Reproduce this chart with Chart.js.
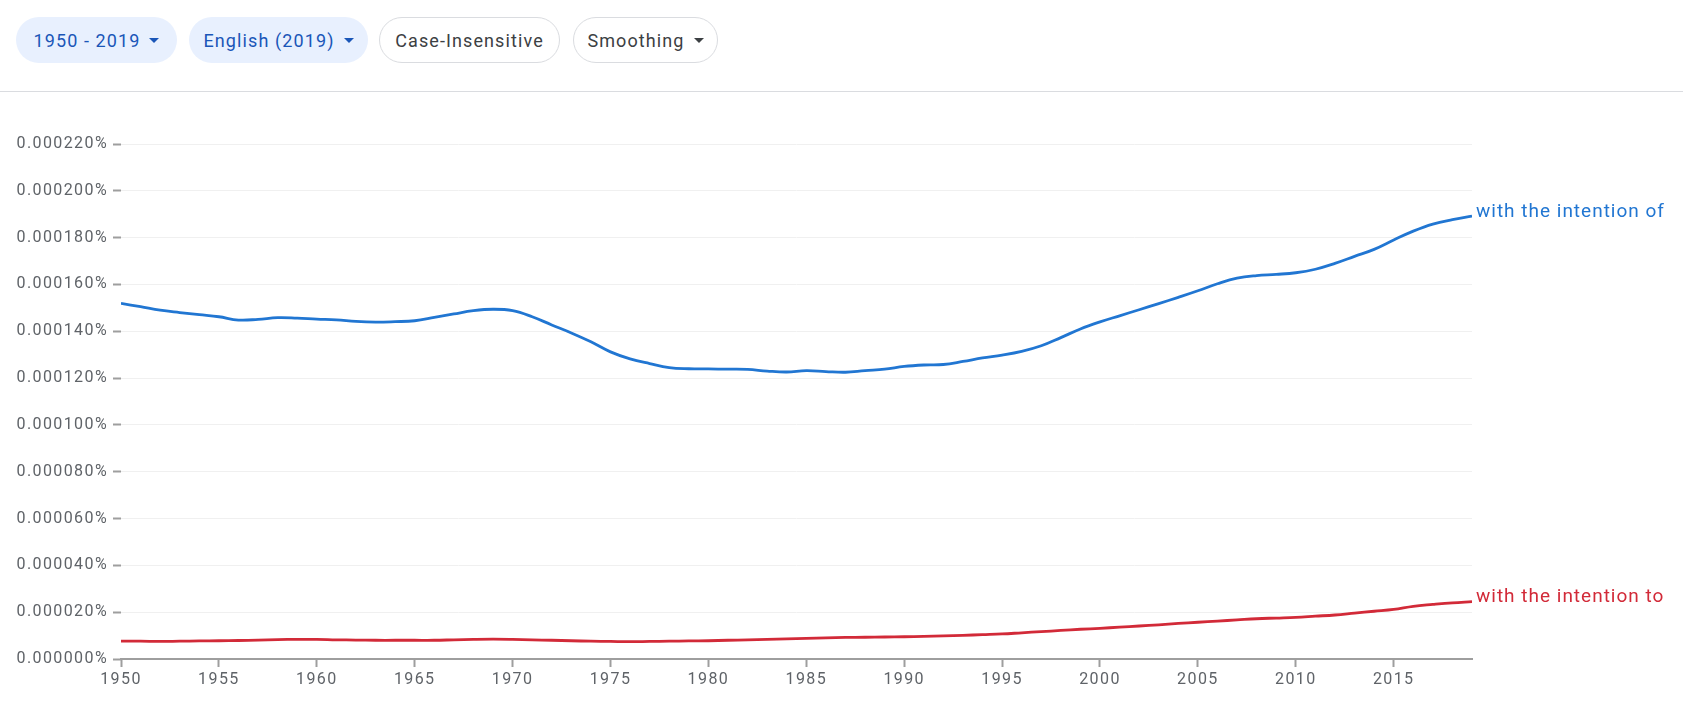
<!DOCTYPE html>
<html>
<head>
<meta charset="utf-8">
<script src="https://cdn.jsdelivr.net/npm/chart.js@4"></script>
<style>
  body { margin: 0; background: #fff; font-family: Roboto, sans-serif; }
  .pill {
    position: absolute; top: 17px; height: 46px; box-sizing: border-box;
    border-radius: 23px; display: flex; align-items: center; justify-content: center;
    font-size: 18px; letter-spacing: 1.1px; white-space: nowrap;
  }
  .sel { background: #e8f0fe; color: #1a56b8; }
  .plain { background: #fff; color: #3c4043; border: 1px solid #dadce0; }
  .caret {
    display: inline-block; width: 0; height: 0; margin-left: 9px;
    border-left: 5.5px solid transparent; border-right: 5.5px solid transparent;
    border-top: 5.5px solid currentColor;
  }
  #divider { position: absolute; left: 0; top: 91px; width: 1683px; height: 1px; background: #dadce0; }
  #wrap { position: absolute; left: 0; top: 92px; width: 1683px; height: 610px; }
</style>
</head>
<body>
<div class="pill sel" style="left:16px;width:161px">1950 - 2019<span class="caret"></span></div>
<div class="pill sel" style="left:189px;width:179px">English (2019)<span class="caret"></span></div>
<div class="pill plain" style="left:379px;width:181px">Case-Insensitive</div>
<div class="pill plain" style="left:573px;width:145px">Smoothing<span class="caret"></span></div>
<div id="divider"></div>
<div id="wrap"><canvas id="ngram"></canvas></div>
<script>
    // years 1950..2019, values in percent
    var years = [];
    for (var y = 1950; y <= 2019; y++) years.push(y);

    var labelOf = 'with the intention of';
    var labelTo = 'with the intention to';

    var valuesOf = [
        1.519, 1.505, 1.490, 1.480, 1.471, 1.462, 1.448, 1.451, 1.458, 1.456,
        1.452, 1.449, 1.442, 1.439, 1.441, 1.445, 1.459, 1.474, 1.488, 1.494,
        1.488, 1.462, 1.427, 1.393, 1.355, 1.312, 1.282, 1.262, 1.245, 1.240,
        1.239, 1.238, 1.237, 1.230, 1.226, 1.232, 1.228, 1.225, 1.232, 1.238,
        1.250, 1.256, 1.258, 1.271, 1.286, 1.298, 1.314, 1.338, 1.373, 1.410,
        1.440, 1.466, 1.492, 1.518, 1.545, 1.573, 1.603, 1.627, 1.638, 1.643,
        1.650, 1.665, 1.690, 1.720, 1.750, 1.790, 1.828, 1.858, 1.877, 1.892
    ].map(function (v) { return v * 1e-4; });

    var valuesTo = [
        0.76, 0.76, 0.75, 0.76, 0.77, 0.78, 0.79, 0.81, 0.83, 0.84,
        0.84, 0.82, 0.81, 0.80, 0.80, 0.80, 0.80, 0.82, 0.84, 0.85,
        0.84, 0.82, 0.80, 0.78, 0.76, 0.75, 0.74, 0.75, 0.76, 0.77,
        0.78, 0.80, 0.82, 0.84, 0.86, 0.88, 0.90, 0.92, 0.93, 0.94,
        0.95, 0.97, 0.99, 1.01, 1.04, 1.07, 1.12, 1.17, 1.22, 1.27,
        1.31, 1.36, 1.41, 1.46, 1.52, 1.57, 1.62, 1.67, 1.72, 1.75,
        1.78, 1.83, 1.88, 1.96, 2.04, 2.12, 2.25, 2.33, 2.40, 2.45
    ].map(function (v) { return v * 1e-5; });

    var blue = '#2176d2';
    var red = '#d22a38';
    var tickGray = '#9e9e9e';

    function pts(vals) {
        return years.map(function (yr, i) { return { x: yr, y: vals[i] }; });
    }

    // axis text in the reference is letter-spaced
    var spacing = {
        id: 'spacing',
        beforeUpdate: function (chart) { chart.ctx.letterSpacing = '1.4px'; },
        beforeDraw: function (chart) { chart.ctx.letterSpacing = '1.4px'; }
    };

    // series names at the end of each line
    var endLabels = {
        id: 'endLabels',
        afterDatasetsDraw: function (chart) {
            var ctx = chart.ctx;
            ctx.save();
            ctx.letterSpacing = '1px';
            ctx.font = '19px Roboto';
            ctx.textAlign = 'left';
            ctx.textBaseline = 'middle';
            chart.data.datasets.forEach(function (ds, i) {
                var pts = chart.getDatasetMeta(i).data;
                var last = pts[pts.length - 1];
                ctx.fillStyle = ds.borderColor;
                ctx.fillText(ds.label, last.x + 4, last.y - 4);
            });
            ctx.restore();
        }
    };

    var ctx = document.getElementById('ngram').getContext('2d');
    var myChart = new Chart(ctx, {
        type: 'line',
        data: {
            datasets: [{
                label: labelOf,
                data: pts(valuesOf),
                borderColor: blue,
                borderWidth: 2.8,
                pointRadius: 0,
                tension: 0.4,
                fill: false
            }, {
                label: labelTo,
                data: pts(valuesTo),
                borderColor: red,
                borderWidth: 2.8,
                pointRadius: 0,
                tension: 0.4,
                fill: false
            }]
        },
        options: {
            responsive: true,
            maintainAspectRatio: false,
            animation: false,
            layout: { padding: { top: 52, right: 211, bottom: 0, left: 0 } },
            plugins: { legend: { display: false }, tooltip: { enabled: false } },
            scales: {
                x: {
                    type: 'linear',
                    min: 1950,
                    max: 2019,
                    afterFit: function (s) { s.height = 43; },
                    ticks: {
                        stepSize: 5,
                        padding: 3,
                        color: '#5f6368',
                        font: { family: 'Roboto', size: 16 },
                        maxRotation: 0,
                        callback: function (v) { return v % 5 === 0 ? String(v) : null; }
                    },
                    grid: {
                        drawOnChartArea: false,
                        drawTicks: true,
                        tickLength: 8,
                        tickColor: tickGray,
                        tickWidth: 2
                    },
                    border: { color: tickGray, width: 2 }
                },
                y: {
                    min: 0,
                    max: 0.00022,
                    afterFit: function (s) { s.width = 121; },
                    ticks: {
                        stepSize: 0.00002,
                        padding: 5,
                        color: '#5f6368',
                        font: { family: 'Roboto', size: 16 },
                        callback: function (v) { return (Math.round(v * 1e8) / 1e8).toFixed(6) + '%'; }
                    },
                    grid: {
                        color: '#f0f0f0',
                        lineWidth: 1,
                        drawTicks: true,
                        tickLength: 8,
                        tickColor: tickGray,
                        tickWidth: 2
                    },
                    border: { display: false }
                }
            }
        },
        plugins: [spacing, endLabels]
    });
</script>
</body>
</html>
